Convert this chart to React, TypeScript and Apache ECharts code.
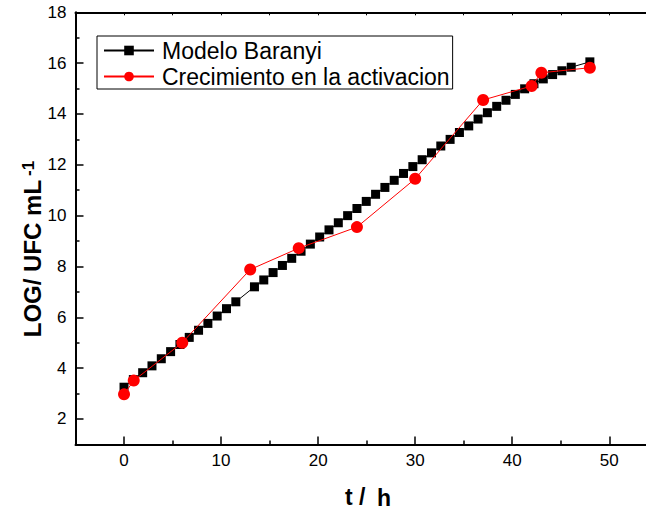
import React, { useEffect, useRef } from "react";
import * as echarts from "echarts";

const modelT = [0, 0.96, 1.92, 2.88, 3.84, 4.8, 5.76, 6.72, 7.68, 8.64, 9.6, 10.56, 11.52, 13.44, 14.4, 15.36, 16.32, 17.28, 18.24, 19.2, 20.16, 21.12, 22.08, 23.04, 24.0, 24.96, 25.92, 26.88, 27.84, 28.8, 29.76, 30.72, 31.68, 32.64, 33.6, 34.56, 35.52, 36.48, 37.44, 38.4, 39.36, 40.32, 41.28, 42.24, 43.2, 44.16, 45.12, 46.08, 48.0];
const modelLog = [3.25, 3.55, 3.82, 4.09, 4.37, 4.65, 4.93, 5.21, 5.49, 5.76, 6.05, 6.34, 6.61, 7.2, 7.47, 7.76, 8.04, 8.32, 8.6, 8.88, 9.16, 9.44, 9.72, 10.0, 10.28, 10.56, 10.84, 11.11, 11.39, 11.66, 11.93, 12.2, 12.47, 12.74, 13.0, 13.27, 13.53, 13.8, 14.05, 14.3, 14.54, 14.77, 14.99, 15.19, 15.38, 15.55, 15.7, 15.84, 16.05];

const obsT = [0, 1, 6, 13, 18, 24, 30, 37, 42, 43, 48];
const obsLog = [2.97, 3.51, 5.0, 7.88, 8.72, 9.55, 11.45, 14.55, 15.1, 15.62, 15.82];

const xMajor = [0, 10, 20, 30, 40, 50];
const xMinor = [5, 15, 25, 35, 45];
const xTop = [0, 5, 10, 15, 20, 25, 30, 35, 40, 45, 50];
const yMajor = [2, 4, 6, 8, 10, 12, 14, 16, 18];
const yMinor = [3, 5, 7, 9, 11, 13, 15, 17];

const FONT = "'Liberation Sans', Arial, sans-serif";

export default function App() {
  const ref = useRef<HTMLDivElement>(null);
  useEffect(() => {
    if (!ref.current) return;
    const chart = echarts.init(ref.current, undefined, { renderer: "svg" });
    const W = 670;
    const baseX = {
      type: "value" as const,
      min: -5,
      max: 55,
      splitLine: { show: false },
    };
    const baseY = {
      type: "value" as const,
      min: 1,
      max: 18,
      splitLine: { show: false },
    };
    chart.setOption({
      animation: false,
      backgroundColor: "#fff",
      grid: {
        left: 75.5,
        right: W - 657.8,
        top: 12.3,
        bottom: 510 - 444.4,
        containLabel: false,
        outerBoundsMode: "none",
      },
      legend: {
        show: true,
        orient: "vertical",
        left: 97,
        top: 36,
        padding: [3, 3, 1, 6],
        itemGap: 3,
        itemWidth: 50,
        itemHeight: 12,
        borderColor: "#000",
        borderWidth: 1,
        textStyle: {
          fontFamily: FONT,
          fontSize: 23,
          color: "#000",
          padding: [0, 0, 0, 3],
        },
        data: ["Modelo Baranyi", "Crecimiento en la activacion"],
      },
      xAxis: [
        {
          ...baseX,
          position: "bottom",
          axisLine: { show: true, onZero: false, lineStyle: { color: "#000", width: 2 } },
          axisTick: { show: true, inside: true, length: 8, customValues: xMajor, lineStyle: { color: "#000", width: 1.5 } },
          axisLabel: { show: true, customValues: xMajor, margin: 8, fontFamily: FONT, fontSize: 17, color: "#000" },
        },
        {
          ...baseX,
          position: "bottom",
          axisLine: { show: false, onZero: false },
          axisTick: { show: true, inside: true, length: 4, customValues: xMinor, lineStyle: { color: "#000", width: 1.5 } },
          axisLabel: { show: false },
        },
        {
          ...baseX,
          position: "top",
          axisLine: { show: true, onZero: false, lineStyle: { color: "#000", width: 2 } },
          axisTick: { show: true, inside: true, length: 3, customValues: xTop, lineStyle: { color: "#000", width: 1 } },
          axisLabel: { show: false },
        },
      ],
      yAxis: [
        {
          ...baseY,
          position: "left",
          axisLine: { show: true, onZero: false, lineStyle: { color: "#000", width: 2 } },
          axisTick: { show: true, inside: true, length: 8, customValues: yMajor, lineStyle: { color: "#000", width: 1.5 } },
          axisLabel: { show: true, customValues: yMajor, margin: 9, fontFamily: FONT, fontSize: 17, color: "#000" },
        },
        {
          ...baseY,
          position: "left",
          axisLine: { show: false, onZero: false },
          axisTick: { show: true, inside: true, length: 4, customValues: yMinor, lineStyle: { color: "#000", width: 1.5 } },
          axisLabel: { show: false },
        },
      ],
      series: [
        {
          name: "Modelo Baranyi",
          type: "line",
          xAxisIndex: 0,
          yAxisIndex: 0,
          data: modelT.map((t, i) => [t, modelLog[i]]),
          symbol: "rect",
          symbolSize: 9,
          itemStyle: { color: "#000" },
          lineStyle: { color: "#000", width: 1 },
          z: 2,
        },
        {
          name: "Crecimiento en la activacion",
          type: "line",
          xAxisIndex: 0,
          yAxisIndex: 0,
          data: obsT.map((t, i) => [t, obsLog[i]]),
          symbol: "circle",
          symbolSize: 12,
          itemStyle: { color: "#ff0000" },
          lineStyle: { color: "#ff0000", width: 1 },
          z: 3,
        },
      ],
      graphic: [
        {
          type: "text",
          x: 32,
          y: 249,
          rotation: Math.PI / 2,
          style: {
            text: "{a|LOG/ UFC mL}{b|-1}",
            align: "center",
            verticalAlign: "middle",
            rich: {
              a: {
                fontFamily: FONT,
                fontSize: 24,
                fontWeight: "bold",
                fill: "#000",
                color: "#000",
                lineHeight: 25,
                verticalAlign: "bottom",
              },
              b: {
                fontFamily: FONT,
                fontSize: 17,
                fontWeight: "bold",
                fill: "#000",
                color: "#000",
                lineHeight: 17,
                verticalAlign: "top",
                padding: [0, 0, 0, 4],
              },
            },
          },
        },
        {
          type: "text",
          x: 345,
          y: 496.5,
          style: {
            text: "t /",
            fontFamily: FONT,
            fontSize: 23,
            fontWeight: "bold",
            fill: "#000",
            align: "left",
            verticalAlign: "middle",
          },
        },
        {
          type: "text",
          x: 377,
          y: 498,
          style: {
            text: "h",
            fontFamily: FONT,
            fontSize: 23,
            fontWeight: "bold",
            fill: "#000",
            align: "left",
            verticalAlign: "middle",
          },
        },
      ],
    });
    return () => chart.dispose();
  }, []);
  return (
    <div
      ref={ref}
      style={{ position: "fixed", left: 0, top: 0, width: 670, height: 510 }}
    />
  );
}
